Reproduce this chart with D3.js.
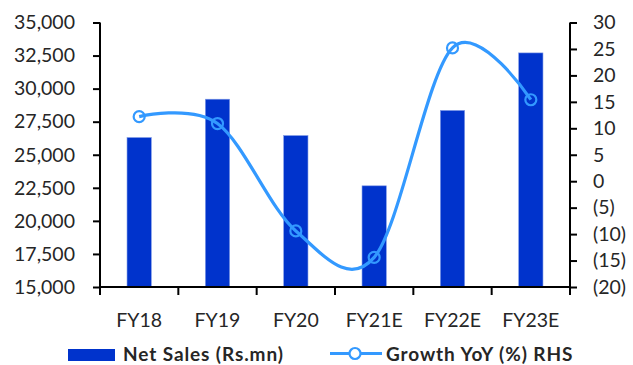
<!DOCTYPE html>
<html>
<head>
<meta charset="utf-8">
<script src="https://cdn.jsdelivr.net/npm/d3@7"></script>
<style>
  html, body { margin: 0; padding: 0; background: #fff; }
  svg { display: block; }
  text { font-family: Lato, "Noto Sans", sans-serif; fill: #262626; }
</style>
</head>
<body>
<svg id="chart" width="633" height="365"></svg>
<script>
// Net sales (Rs. mn) and YoY growth (%)
const categories = ["FY18", "FY19", "FY20", "FY21E", "FY22E", "FY23E"];
const netSales = [26300, 29200, 26450, 22650, 28350, 32700];
const growthYoY = [12.2, 10.9, -9.4, -14.4, 25.2, 15.4];
const leftTicks = [15000, 17500, 20000, 22500, 25000, 27500, 30000, 32500, 35000];
const rightTicks = [-20, -15, -10, -5, 0, 5, 10, 15, 20, 25, 30];

const svg = d3.select("#chart");
const m = { left: 100, right: 570, top: 22.5, bottom: 287 };

const x = d3.scaleBand().domain(categories).range([m.left, m.right]).paddingInner(0).paddingOuter(0);
const yL = d3.scaleLinear().domain([15000, 35000]).range([m.bottom, m.top]);
const yR = d3.scaleLinear().domain([-20, 30]).range([m.bottom, m.top]);

const barColor = "#0033CC";
const lineColor = "#3399FF";
const fmtL = d3.format(",");
const fmtR = v => v < 0 ? `(${Math.abs(v)})` : `${v}`;

// Bars
const barW = x.bandwidth() * 0.31;
svg.append("g").selectAll("rect").data(categories).join("rect")
  .attr("x", d => x(d) + x.bandwidth() / 2 - barW / 2)
  .attr("y", (d, i) => yL(netSales[i]))
  .attr("width", barW)
  .attr("height", (d, i) => yL(15000) - yL(netSales[i]))
  .attr("fill", barColor)
  .attr("stroke", "#7f99e6")
  .attr("stroke-width", 0.6);

// Left axis
const axL = svg.append("g").attr("transform", `translate(${m.left},0)`)
  .call(d3.axisLeft(yL).tickValues(leftTicks).tickFormat(fmtL).tickSize(7).tickPadding(18));
// Right axis
const axR = svg.append("g").attr("transform", `translate(${m.right},0)`)
  .call(d3.axisRight(yR).tickValues(rightTicks).tickFormat(fmtR).tickSize(7).tickPadding(16));
// Bottom axis with tick marks on band boundaries
const axB = svg.append("g").attr("transform", `translate(0,${m.bottom})`)
  .call(d3.axisBottom(x).tickSize(0).tickPadding(26));
axB.selectAll(".tick text").attr("dy", "0.71em");
axB.append("g").selectAll("line")
  .data(d3.range(categories.length + 1))
  .join("line")
  .attr("x1", i => m.left + i * x.step())
  .attr("x2", i => m.left + i * x.step())
  .attr("y1", 0).attr("y2", 8)
  .attr("stroke", "#000").attr("stroke-width", 2);

[axL, axR, axB].forEach(g => {
  g.selectAll(".domain").attr("stroke", "#000").attr("stroke-width", 2);
  g.selectAll(".tick line").attr("stroke", "#000").attr("stroke-width", 2);
  g.selectAll(".tick text").style("font-size", "19.5px").attr("fill", "#262626")
    .style("font-family", "Lato, 'Noto Sans', sans-serif");
});
axL.select(".domain").attr("d", `M0,${m.top}V${m.bottom}`).attr("transform", null);
axR.select(".domain").attr("d", `M0,${m.top}V${m.bottom}`);
axB.select(".domain").attr("d", `M${m.left},0H${m.right}`);

// Growth line
const pts = categories.map((c, i) => [x(c) + x.bandwidth() / 2, yR(growthYoY[i])]);
svg.append("path")
  .attr("d", d3.line().curve(d3.curveCardinal.tension(0))(pts))
  .attr("fill", "none")
  .attr("stroke", lineColor)
  .attr("stroke-width", 3.2);
svg.append("g").selectAll("circle").data(pts).join("circle")
  .attr("cx", d => d[0]).attr("cy", d => d[1]).attr("r", 5.5)
  .attr("fill", "none").attr("stroke", lineColor).attr("stroke-width", 2.2);

// Legend
const lg = svg.append("g");
lg.append("rect").attr("x", 68).attr("y", 349).attr("width", 47).attr("height", 12).attr("fill", barColor);
lg.append("text").attr("x", 123).attr("y", 361).text("Net Sales (Rs.mn)")
  .style("font-size", "19px").style("font-weight", "bold").style("letter-spacing", "0.9px");
lg.append("line").attr("x1", 330).attr("x2", 382).attr("y1", 353.5).attr("y2", 353.5)
  .attr("stroke", lineColor).attr("stroke-width", 3.2);
lg.append("circle").attr("cx", 355).attr("cy", 353.5).attr("r", 5.5)
  .attr("fill", "#fff").attr("stroke", lineColor).attr("stroke-width", 2.2);
lg.append("text").attr("x", 386).attr("y", 361).text("Growth YoY (%) RHS")
  .style("font-size", "19px").style("font-weight", "bold").style("letter-spacing", "0.9px");
</script>
</body>
</html>
